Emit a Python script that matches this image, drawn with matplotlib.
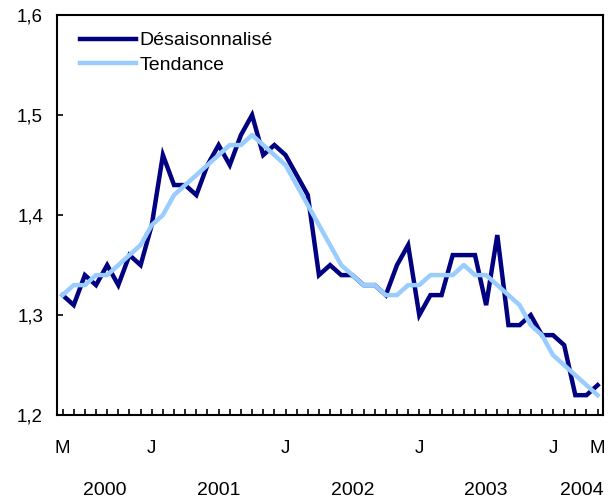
import numpy as np
import matplotlib
matplotlib.use('Agg')
import matplotlib.pyplot as plt

plt.rcParams['font.family'] = ['Liberation Sans', 'DejaVu Sans']

# May 2000 .. May 2004, monthly
desais = [1.32, 1.31, 1.34, 1.33, 1.35, 1.33, 1.36, 1.35,
          1.39, 1.46, 1.43, 1.43, 1.42, 1.45, 1.47, 1.45, 1.48, 1.50, 1.46, 1.47, 1.46,
          1.44, 1.42, 1.34, 1.35, 1.34, 1.34, 1.33, 1.33, 1.32, 1.35, 1.37,
          1.30, 1.32, 1.32, 1.36, 1.36, 1.36, 1.31, 1.38, 1.29, 1.29, 1.30, 1.28,
          1.28, 1.27, 1.22, 1.22, 1.23]
tendance = [1.32, 1.33, 1.33, 1.34, 1.34, 1.35, 1.36, 1.37,
            1.39, 1.40, 1.42, 1.43, 1.44, 1.45, 1.46, 1.47, 1.47, 1.48, 1.47, 1.46, 1.45,
            1.43, 1.41, 1.39, 1.37, 1.35, 1.34, 1.33, 1.33, 1.32, 1.32, 1.33,
            1.33, 1.34, 1.34, 1.34, 1.35, 1.34, 1.34, 1.33, 1.32, 1.31, 1.29, 1.28,
            1.26, 1.25, 1.24, 1.23, 1.22]
month_labels = {0: 'M', 8: 'J', 20: 'J', 32: 'J', 44: 'J', 48: 'M'}
year_labels = {3.8: '2000', 14: '2001', 26: '2002', 38: '2003', 46.6: '2004'}
yticks = [1.2, 1.3, 1.4, 1.5, 1.6]

x = np.arange(len(desais))

fig = plt.figure(figsize=(6.13, 4.99), dpi=100)
ax = fig.add_axes([0.093, 0.168, 0.891, 0.802])

ax.plot(x, desais, color='#000080', lw=3.2, label='Désaisonnalisé', solid_joinstyle='miter')
ax.plot(x, tendance, color='#99ccff', lw=3.2, label='Tendance')

ax.set_xlim(-0.5, 48.5)
ax.set_ylim(1.2, 1.6)
ax.set_yticks(yticks)
ax.set_yticklabels([f'{v:.1f}'.replace('.', ',') for v in yticks], fontsize=13.5)
ax.set_xticks(x)
ax.set_xticklabels([])
ax.tick_params(axis='x', direction='in', length=4, width=1.2)
ax.tick_params(axis='y', direction='in', length=4, width=1.2, pad=10)
for s in ax.spines.values():
    s.set_linewidth(1.5)

for m, t in month_labels.items():
    ax.text(m, -0.0825, t, transform=ax.get_xaxis_transform(), ha='center', va='center', fontsize=13.5)
for m, t in year_labels.items():
    ax.text(m, -0.1875, t, transform=ax.get_xaxis_transform(), ha='center', va='center', fontsize=14)

ax.legend(loc='upper left', bbox_to_anchor=(0.017, 0.992), frameon=False, fontsize=14,
          handlelength=2.9, borderaxespad=0.3, labelspacing=0.35, handletextpad=0.15)

fig.savefig('out.png', dpi=100)
